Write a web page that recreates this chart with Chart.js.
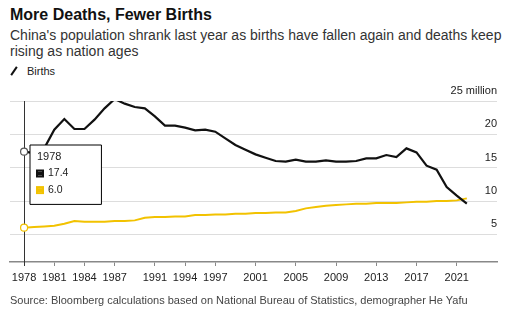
<!DOCTYPE html>
<html>
<head>
<meta charset="utf-8">
<script src="https://cdn.jsdelivr.net/npm/chart.js@4/dist/chart.umd.min.js"></script>
<style>
  html, body { margin:0; padding:0; background:#fff; }
  body { width:514px; height:328px; position:relative; overflow:hidden; font-family:"Liberation Sans", Arial, sans-serif; }
  #title { position:absolute; left:10px; top:6px; font-size:16px; line-height:18px; font-weight:bold; color:#111; white-space:nowrap; }
  #sub { position:absolute; left:10px; top:27px; width:500px; font-size:14px; line-height:16px; color:#333; }
  #legend { position:absolute; left:10px; top:65px; font-size:11px; color:#222; white-space:nowrap; }
  #legend .ic { display:inline-block; width:10px; height:2px; background:#111; transform:rotate(-55deg); vertical-align:middle; margin-right:7px; position:relative; top:-1px; left:-1px; }
  #src { position:absolute; left:10px; top:294px; font-size:11px; line-height:12px; color:#444; white-space:nowrap; }
  canvas { position:absolute; left:0; top:0; }
</style>
</head>
<body>
<div id="title">More Deaths, Fewer Births</div>
<div id="sub">China's population shrank last year as births have fallen again and deaths keep rising as nation ages</div>
<div id="legend"><span class="ic"></span>Births</div>
<canvas id="c" width="514" height="328"></canvas>
<div id="src">Source: Bloomberg calculations based on National Bureau of Statistics, demographer He Yafu</div>
<script>
const years = [1978,1979,1980,1981,1982,1983,1984,1985,1986,1987,1988,1989,1990,1991,1992,1993,1994,1995,1996,1997,1998,1999,2000,2001,2002,2003,2004,2005,2006,2007,2008,2009,2010,2011,2012,2013,2014,2015,2016,2017,2018,2019,2020,2021,2022];
const births = [17.4,17.2,17.9,20.7,22.3,20.8,20.8,22.2,23.9,25.3,24.6,24.1,23.9,22.7,21.3,21.3,21.0,20.6,20.7,20.4,19.4,18.4,17.7,17.0,16.5,16.0,15.9,16.2,15.9,15.9,16.1,15.9,15.9,16.0,16.4,16.4,16.9,16.6,17.9,17.3,15.3,14.7,12.1,10.8,9.6];
const deaths = [6.0,6.1,6.2,6.3,6.6,7.0,6.9,6.9,6.9,7.0,7.0,7.1,7.5,7.6,7.6,7.7,7.7,7.9,7.9,8.0,8.0,8.1,8.1,8.2,8.2,8.3,8.3,8.5,8.9,9.1,9.3,9.4,9.5,9.6,9.6,9.7,9.7,9.7,9.8,9.9,9.9,10.0,10.0,10.1,10.4];
const xTickYears = [1978,1981,1984,1987,1991,1994,1997,2001,2005,2009,2013,2017,2021];
const yTicks = [5,10,15,20,25];
const hoverIndex = 0;

const BLACK = '#111111';
const YELLOW = '#f2c200';

Chart.Tooltip.positioners.fixedBox = function() { return { x: 30, y: 145 }; };

const crosshair = {
  id: 'crosshair',
  beforeDatasetsDraw(chart) {
    const xs = chart.scales.x, ca = chart.chartArea, ctx = chart.ctx;
    const px = Math.round(xs.getPixelForValue(years[hoverIndex])) + 0.5;
    ctx.save();
    ctx.strokeStyle = '#333';
    ctx.lineWidth = 1;
    ctx.beginPath();
    ctx.moveTo(px, ca.top);
    ctx.lineTo(px, ca.bottom + 4);
    ctx.stroke();
    ctx.restore();
  }
};

const ptRadius = c => c.dataIndex === hoverIndex ? 3.5 : 0;

const chart = new Chart(document.getElementById('c'), {
  type: 'line',
  data: {
    datasets: [
      { label: 'Births', data: years.map((y,i)=>({x:y, y:births[i]})), borderColor: BLACK, backgroundColor: BLACK,
        borderWidth: 2.2, tension: 0, pointRadius: ptRadius, pointHoverRadius: ptRadius, pointBackgroundColor: '#fff', pointBorderColor: '#555', pointBorderWidth: 1.2, pointHoverBorderWidth: 1.2 },
      { label: 'Deaths', data: years.map((y,i)=>({x:y, y:deaths[i]})), borderColor: YELLOW, backgroundColor: YELLOW,
        borderWidth: 2, tension: 0, pointRadius: ptRadius, pointHoverRadius: ptRadius, pointBackgroundColor: '#fff', pointBorderColor: YELLOW, pointBorderWidth: 1.2, pointHoverBorderWidth: 1.2 }
    ]
  },
  options: {
    responsive: false,
    animation: false,
    events: [],
    layout: { padding: { top: 101, left: 10, right: 17, bottom: 46 } },
    plugins: {
      legend: { display: false },
      title: { display: false },
      tooltip: {
        enabled: true,
        position: 'fixedBox',
        xAlign: 'left', yAlign: 'top',
        caretSize: 0, caretPadding: 0, cornerRadius: 0,
        backgroundColor: '#fff', borderColor: '#000', borderWidth: 1,
        titleColor: '#222', bodyColor: '#222',
        titleFont: { family: 'Liberation Sans', size: 11, weight: 'normal' },
        bodyFont: { family: 'Liberation Sans', size: 10.5 },
        titleMarginBottom: 4, bodySpacing: 4,
        padding: { top: 5, bottom: 8, left: 7, right: 33 },
        boxWidth: 6, boxHeight: 6, boxPadding: 3,
        displayColors: true,
        callbacks: {
          title: items => String(items[0].parsed.x),
          label: item => item.parsed.y.toFixed(1),
          labelColor: item => ({ borderColor: item.dataset.borderColor, backgroundColor: item.dataset.borderColor, borderWidth: 2 })
        }
      }
    },
    scales: {
      x: {
        type: 'linear', min: 1976.6, max: 2025,
        afterBuildTicks: s => { s.ticks = xTickYears.map(v => ({ value: v })); },
        afterFit: s => { s.height = 20; },
        grid: { display: true, drawOnChartArea: false, drawTicks: true, tickLength: 4, color: '#888' },
        border: { display: true, color: '#888', width: 1.5 },
        ticks: { padding: 5, color: '#222', font: { family: 'Liberation Sans', size: 11 }, maxRotation: 0, autoSkip: false, callback: v => String(v) }
      },
      y: {
        position: 'right', min: 0.86, max: 25,
        afterBuildTicks: s => { s.ticks = yTicks.map(v => ({ value: v })); },
        afterFit: s => { s.width = 0; },
        grid: { color: '#dddddd', lineWidth: 1, drawTicks: false },
        border: { display: false },
        ticks: { mirror: true, padding: 0, labelOffset: -10, color: '#222', font: { family: 'Liberation Sans', size: 11 },
          callback: v => v === 25 ? '25 million' : String(v) }
      }
    }
  },
  plugins: [crosshair]
});

const act = [{datasetIndex:0, index:hoverIndex},{datasetIndex:1, index:hoverIndex}];
chart.tooltip.setActiveElements(act, { x: 30, y: 145 });
chart.update();
</script>
</body>
</html>
